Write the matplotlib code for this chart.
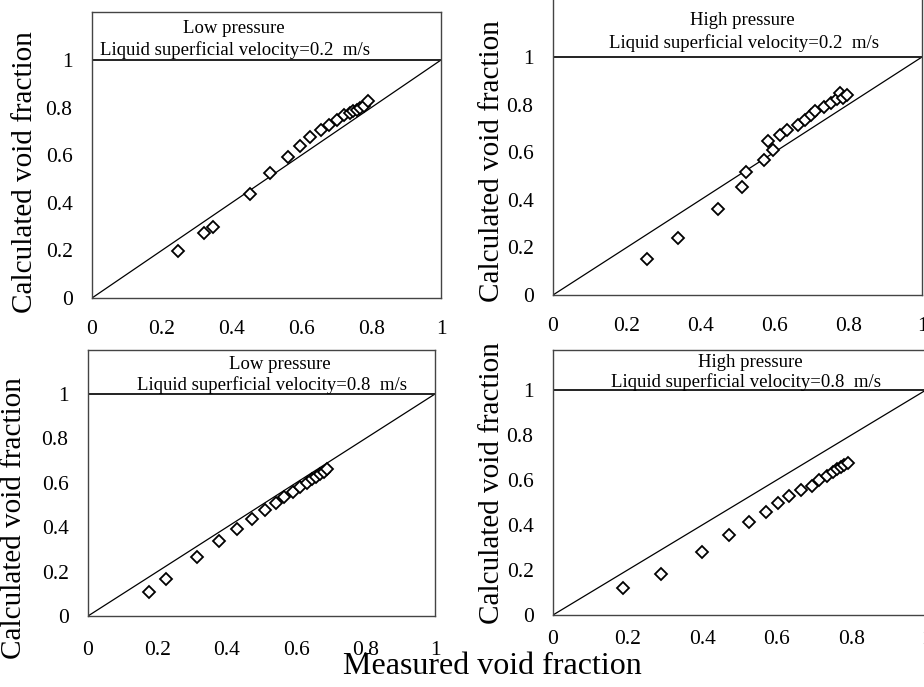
import matplotlib.pyplot as plt
import matplotlib.transforms as mtrans

plt.rcParams['font.family'] = ['Liberation Serif', 'DejaVu Serif']

# measured vs calculated void fraction
lp02_meas = [0.247, 0.321, 0.347, 0.452, 0.511, 0.563, 0.597, 0.626, 0.656, 0.680,
             0.703, 0.722, 0.738, 0.749, 0.759, 0.768, 0.780, 0.790]
lp02_calc = [0.198, 0.275, 0.300, 0.438, 0.527, 0.593, 0.637, 0.676, 0.707, 0.728,
             0.749, 0.767, 0.777, 0.785, 0.791, 0.798, 0.808, 0.828]

hp02_meas = [0.255, 0.339, 0.447, 0.513, 0.523, 0.571, 0.595, 0.584, 0.616, 0.634,
             0.663, 0.684, 0.700, 0.711, 0.734, 0.754, 0.769, 0.779, 0.785, 0.797]
hp02_calc = [0.152, 0.241, 0.361, 0.452, 0.517, 0.569, 0.611, 0.646, 0.671, 0.695,
             0.716, 0.734, 0.755, 0.772, 0.790, 0.807, 0.822, 0.850, 0.829, 0.842]

lp08_meas = [0.175, 0.224, 0.314, 0.378, 0.430, 0.474, 0.510, 0.541, 0.566, 0.590,
             0.612, 0.630, 0.645, 0.656, 0.668, 0.679, 0.690]
lp08_calc = [0.107, 0.165, 0.264, 0.338, 0.393, 0.437, 0.477, 0.508, 0.538, 0.560,
             0.583, 0.601, 0.616, 0.628, 0.638, 0.649, 0.662]

hp08_meas = [0.188, 0.290, 0.399, 0.471, 0.526, 0.571, 0.604, 0.634, 0.666, 0.694,
             0.714, 0.735, 0.750, 0.762, 0.772, 0.781, 0.790]
hp08_calc = [0.118, 0.182, 0.281, 0.354, 0.413, 0.460, 0.497, 0.531, 0.556, 0.575,
             0.598, 0.618, 0.635, 0.648, 0.660, 0.667, 0.675]

ticks = [0, 0.2, 0.4, 0.6, 0.8, 1]
tick_labels = ['0', '0.2', '0.4', '0.6', '0.8', '1']

W, H = 924, 687
fig = plt.figure(figsize=(W / 100, H / 100), dpi=100)

# left, right, bottom (px from top), px per unit y, ylim top, data, texts, label pos, x pad
panels = [
    (92, 441, 298, 238, 1.2, lp02_meas, lp02_calc, 'Low pressure', '0.2',
     (0.405, 1.134), (0.41, 1.042), (25, 172), 16),
    (553, 922, 295, 238, 1.25, hp02_meas, hp02_calc, 'High pressure', '0.2',
     (0.512, 1.155), (0.518, 1.059), (492, 161), 16),
    (88, 435, 616, 222, 1.2, lp08_meas, lp08_calc, 'Low pressure', '0.8',
     (0.553, 1.131), (0.53, 1.04), (14, 518), 18),
    (553, 926, 615, 225, 1.18, hp08_meas, hp08_calc, 'High pressure', '0.8',
     (0.528, 1.12), (0.517, 1.036), (492, 483), 11),
]

for (l, r, b, span, ytop, xm, yc, t1, vel, p1, p2, ylab, xpad) in panels:
    ax = fig.add_axes([l / W, (H - b) / H, (r - l) / W, span * ytop / H])
    ax.plot([0, 1], [0, 1], color='black', lw=0.9)
    ax.axhline(1, color='#222222', lw=1.4)
    ax.plot(xm, yc, linestyle='none', marker='D', markersize=6.5,
            markerfacecolor='white', markeredgecolor='black', markeredgewidth=1.3)
    ax.set_xlim(0, 1)
    ax.set_ylim(0, ytop)
    ax.set_xticks(ticks)
    ax.set_xticklabels(tick_labels)
    ax.set_yticks(ticks)
    ax.set_yticklabels(tick_labels)
    ax.tick_params(axis='both', length=0, labelsize=15.5)
    ax.tick_params(axis='x', pad=xpad)
    ax.tick_params(axis='y', pad=14)
    for s in ax.spines.values():
        s.set_color('#444444')
        s.set_linewidth(1.0)
    tr = mtrans.blended_transform_factory(ax.transAxes, ax.transData)
    ax.text(p1[0], p1[1], t1, transform=tr, ha='center', va='center', fontsize=13.5)
    ax.text(p2[0], p2[1], 'Liquid superficial velocity=' + vel + '  m/s',
            transform=tr, ha='center', va='center', fontsize=13.5)
    fig.text(ylab[0] / W, 1 - ylab[1] / H, 'Calculated void fraction',
             rotation=90, ha='center', va='center', fontsize=21)

fig.text(492 / W, 1 - 666 / H, 'Measured void fraction', ha='center', va='center', fontsize=23)

fig.savefig('out.png', dpi=100)
